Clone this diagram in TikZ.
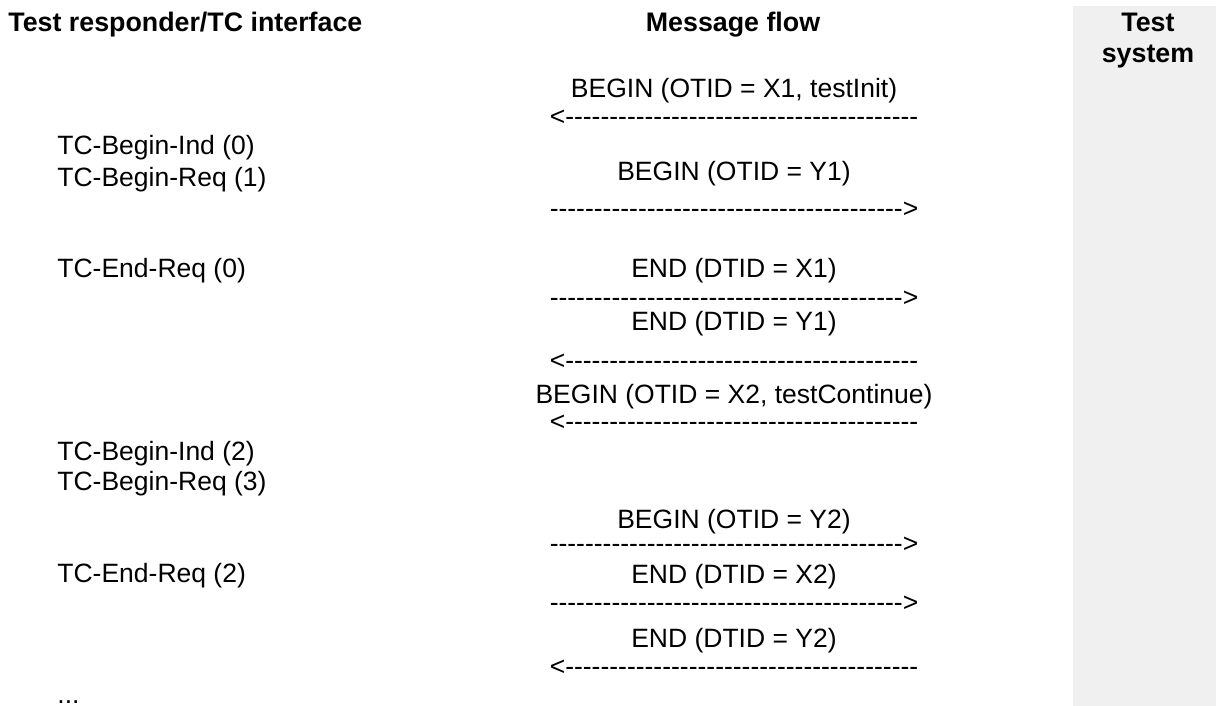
\documentclass[tikz,border=0pt]{standalone}
\usepackage{fontspec}
\setmainfont{Liberation Sans}
\usepackage{tikz}
\definecolor{sysgray}{RGB}{240,240,240}
\newcommand{\tendashes}{-{}-{}-{}-{}-{}-{}-{}-{}-{}-{}}
\newcommand{\toleft}{<\tendashes\tendashes\tendashes\tendashes}
\newcommand{\toright}{\tendashes\tendashes\tendashes\tendashes>}

\begin{document}
\begin{tikzpicture}[x=0.5pt, y=-0.5pt,
  txt/.style={font=\fontsize{13.25}{15.25}\selectfont, inner sep=0pt},
  hdr/.style={txt, font=\fontsize{13.4}{15.4}\selectfont\bfseries},
  tc/.style={txt, anchor=base west},
  msg/.style={txt, anchor=base}]
\useasboundingbox (0, 0) rectangle (1216, 706);
\fill [sysgray] (1073, 6) rectangle (1216, 706);

\node [hdr, anchor=base west] (tchead) at (8, 32) {Test responder/TC interface};
\node [hdr, anchor=base] (flowhead) at (733, 32) {Message flow};
\node [hdr, anchor=base] (syshead) at (1148, 32) {Test};
\node [hdr, anchor=base] (syshead2) at (1148, 63) {system};

\node [tc] (ind0) at (57, 155) {TC-Begin-Ind (0)};
\node [tc] (req1) at (57, 186) {TC-Begin-Req (1)};
\node [tc] (end0) at (57, 277) {TC-End-Req (0)};
\node [tc] (ind2) at (57, 460) {TC-Begin-Ind (2)};
\node [tc] (req3) at (57, 490) {TC-Begin-Req (3)};
\node [tc] (end2) at (57, 582) {TC-End-Req (2)};
\node [tc] (more) at (57, 703) {...};

\node [msg] (beginX1) at (734, 98) {BEGIN (OTID = X1, testInit)};
\node [msg] (arr1) at (734, 126) {\toleft};
\node [msg] (beginY1) at (734, 180) {BEGIN (OTID = Y1)};
\node [msg] (arr2) at (734, 217) {\toright};
\node [msg] (endX1) at (734, 277) {END (DTID = X1)};
\node [msg] (arr3) at (734, 306) {\toright};
\node [msg] (endY1) at (734, 330) {END (DTID = Y1)};
\node [msg] (arr4) at (734, 369) {\toleft};
\node [msg] (beginX2) at (734, 403) {BEGIN (OTID = X2, testContinue)};
\node [msg] (arr5) at (734, 430) {\toleft};

\node [msg] (beginY2) at (734, 528) {BEGIN (OTID = Y2)};
\node [msg] (arr6) at (734, 552) {\toright};
\node [msg] (endX2) at (734, 583) {END (DTID = X2)};
\node [msg] (arr7) at (734, 611) {\toright};
\node [msg] (endY2) at (734, 647) {END (DTID = Y2)};
\node [msg] (arr8) at (734, 675) {\toleft};
\end{tikzpicture}
\end{document}
